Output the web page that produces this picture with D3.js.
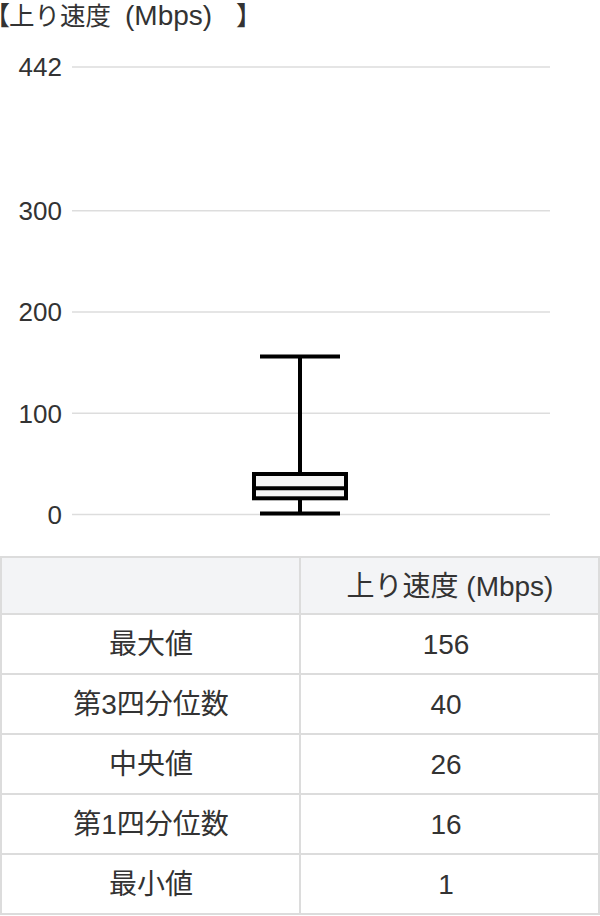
<!DOCTYPE html>
<html>
<head>
<meta charset="utf-8">
<script src="https://cdn.jsdelivr.net/npm/d3@7"></script>
<style>
  body { margin: 0; background: #fff; }
  text { font-family: "Liberation Sans", "Noto Sans CJK JP", sans-serif; fill: #333; }
</style>
</head>
<body>
<div id="chart"></div>
<script>
var titleOpen = "【";
var titleWords = "上り速度";
var titleUnit = "(Mbps)";
var titleClose = "】";
var categories = ["上り速度 (Mbps)"];
var statLabels = ["最大値", "第3四分位数", "中央値", "第1四分位数", "最小値"];
var statValues = [156, 40, 26, 16, 1];
var yTicks = [0, 100, 200, 300, 442];

var svgWidth = 600;
var svgHeight = 916;

var svg = d3.select("#chart")
    .append("svg")
    .attr("width", svgWidth)
    .attr("height", svgHeight);

// title, brackets set tight like a proportional font
var titleG = svg.append("g").attr("transform", "translate(0,24.5)");
titleG.append("text")
    .attr("x", 10)
    .attr("text-anchor", "end")
    .attr("font-size", 26)
    .text(titleOpen);
titleG.append("text")
    .attr("x", 9)
    .attr("font-size", 25.5)
    .text(titleWords);
titleG.append("text")
    .attr("x", 125)
    .attr("font-size", 28)
    .text(titleUnit);
titleG.append("text")
    .attr("x", 236)
    .attr("font-size", 26)
    .text(titleClose);

var yScale = d3.scaleLinear()
    .domain([0, d3.max(yTicks)])
    .range([514.5, 67]);

var xScale = d3.scaleBand()
    .domain(categories)
    .range([254, 346]);

// grid + labels
var grid = svg.append("g");
grid.selectAll("line")
    .data(yTicks)
    .enter()
    .append("line")
    .attr("x1", 72)
    .attr("x2", 550)
    .attr("y1", d => yScale(d))
    .attr("y2", d => yScale(d))
    .attr("stroke", "#dddddd")
    .attr("stroke-width", 1.5);

grid.selectAll("text")
    .data(yTicks)
    .enter()
    .append("text")
    .attr("x", 62)
    .attr("y", d => yScale(d))
    .attr("dy", "0.36em")
    .attr("text-anchor", "end")
    .attr("font-size", 26)
    .text(d => d);

// box plot
var stats = {max: statValues[0], q3: statValues[1], med: statValues[2], q1: statValues[3], min: statValues[4]};
var cat = categories[0];
var bx = xScale(cat), bw = xScale.bandwidth(), cx = bx + bw / 2;
var capW = bw * 80 / 92;
var box = svg.append("g")
    .attr("stroke", "#000")
    .attr("stroke-width", 4);

box.append("line")
    .attr("x1", cx).attr("x2", cx)
    .attr("y1", yScale(stats.max)).attr("y2", yScale(stats.min));

[stats.max, stats.min].forEach(function(v) {
    box.append("line")
        .attr("x1", cx - capW / 2).attr("x2", cx + capW / 2)
        .attr("y1", yScale(v)).attr("y2", yScale(v));
});

box.append("rect")
    .attr("x", bx)
    .attr("width", bw)
    .attr("y", yScale(stats.q3))
    .attr("height", yScale(stats.q1) - yScale(stats.q3))
    .attr("fill", "#f5f5f5");

box.append("line")
    .attr("x1", bx).attr("x2", bx + bw)
    .attr("y1", yScale(stats.med)).attr("y2", yScale(stats.med));

// table
var tableTop = 557, headH = 57, rowH = 60;
var rowsY = [tableTop, tableTop + headH];
statLabels.forEach(function(d, i) { rowsY.push(tableTop + headH + rowH * (i + 1)); });

var table = svg.append("g");
table.append("rect")
    .attr("x", 1).attr("y", tableTop)
    .attr("width", 598).attr("height", headH)
    .attr("fill", "#f3f4f6");

table.selectAll("line.h")
    .data(rowsY)
    .enter()
    .append("line")
    .attr("class", "h")
    .attr("x1", 0).attr("x2", 600)
    .attr("y1", d => d).attr("y2", d => d)
    .attr("stroke", "#dcdcdc")
    .attr("stroke-width", 2);

table.selectAll("line.v")
    .data([1, 300, 599])
    .enter()
    .append("line")
    .attr("class", "v")
    .attr("x1", d => d).attr("x2", d => d)
    .attr("y1", tableTop).attr("y2", rowsY[rowsY.length - 1])
    .attr("stroke", "#dcdcdc")
    .attr("stroke-width", 2);

table.append("text")
    .attr("x", 450)
    .attr("y", tableTop + headH / 2)
    .attr("dy", "0.36em")
    .attr("text-anchor", "middle")
    .attr("font-size", 28)
    .text(categories[0]);

statLabels.forEach(function(label, i) {
    var ym = tableTop + headH + rowH * i + rowH / 2;
    table.append("text")
        .attr("x", 151).attr("y", ym)
        .attr("dy", "0.36em")
        .attr("text-anchor", "middle")
        .attr("font-size", 28)
        .text(label);
    table.append("text")
        .attr("x", 446).attr("y", ym)
        .attr("dy", "0.36em")
        .attr("text-anchor", "middle")
        .attr("font-size", 28)
        .text(statValues[i]);
});
</script>
</body>
</html>
